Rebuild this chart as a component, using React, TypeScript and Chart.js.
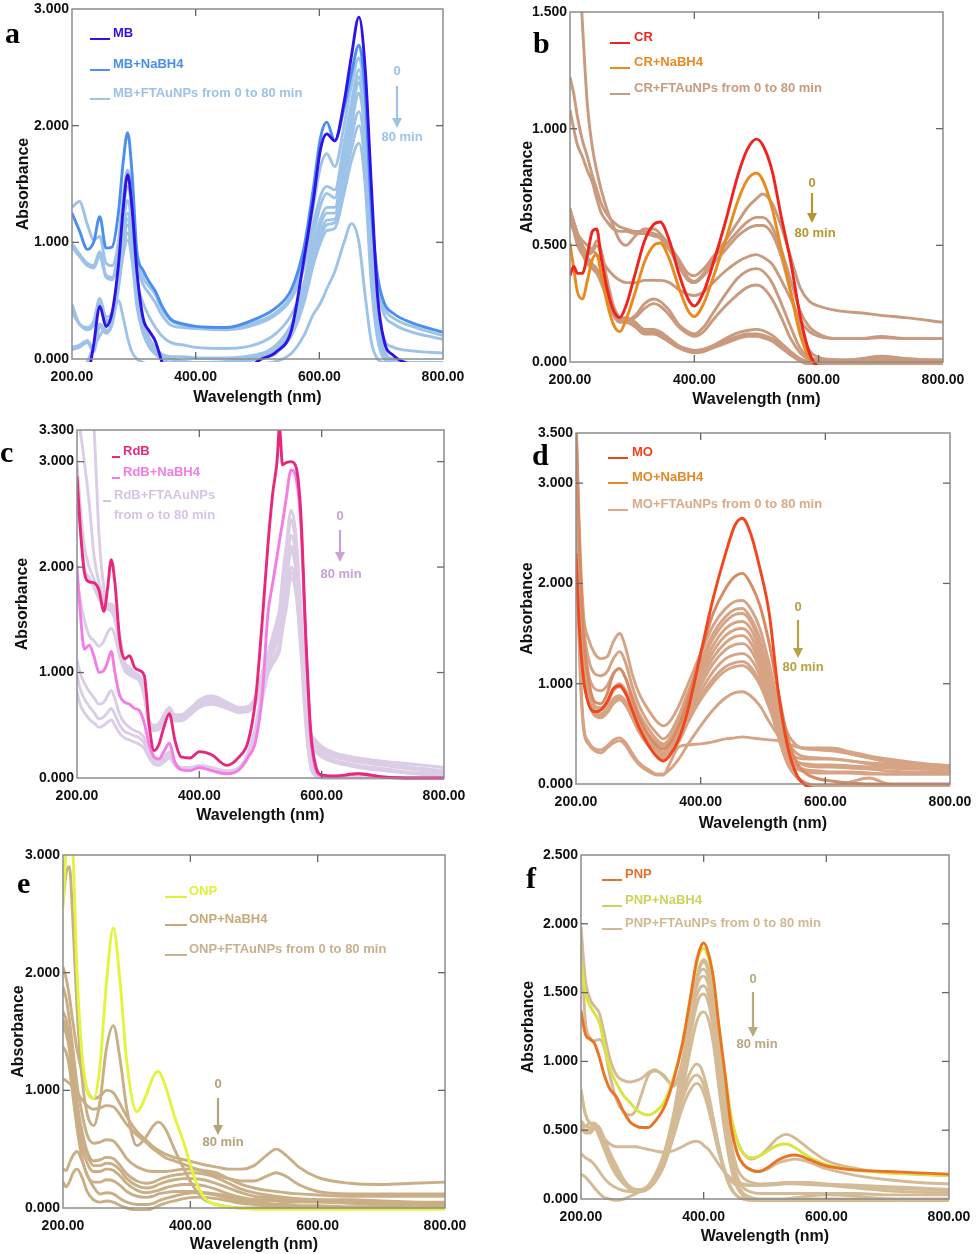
import React, { useEffect, useRef } from "react";
import { Chart, registerables } from "chart.js";
Chart.register(...registerables);

// ---------- shared axis ticks ----------
const xTickValues = [200, 400, 600, 800];
const yTicksA = [0, 1, 2, 3];
const yTicksB = [0, 0.5, 1, 1.5];
const yTicksC = [0, 1, 2, 3, 3.3];
const yTicksD = [0, 1, 2, 3, 3.5];
const yTicksE = [0, 1, 2, 3];
const yTicksF = [0, 0.5, 1, 1.5, 2, 2.5];

// ---------- panel a : MB ----------
const wlA = [200, 212, 225, 235, 245, 255, 265, 275, 283, 290, 297, 305, 315, 325, 335, 345, 360, 380, 400, 450, 500, 530, 555, 575, 590, 602, 612, 625, 640, 652, 664, 674, 684, 694, 705, 720, 750, 800];
const aMB = [-1.0, -0.8, -0.2, 0.12, 0.45, 0.28, 0.4, 0.8, 1.3, 1.58, 1.3, 0.75, 0.35, 0.24, 0.15, -0.02, -0.3, -0.4, -0.4, -0.3, -0.02, 0.06, 0.25, 0.85, 1.35, 1.8, 1.93, 1.87, 2.2, 2.6, 2.93, 2.5, 1.5, 0.55, 0.15, 0.03, -0.05, -0.1];
const aMBNaBH4 = [1.25, 1.1, 0.94, 1.0, 1.22, 0.95, 0.96, 1.25, 1.7, 1.94, 1.6, 0.92, 0.76, 0.66, 0.58, 0.46, 0.34, 0.3, 0.28, 0.27, 0.35, 0.44, 0.6, 0.95, 1.45, 1.9, 2.03, 1.87, 2.15, 2.45, 2.69, 2.3, 1.3, 0.72, 0.48, 0.39, 0.31, 0.23];
const aFT1 = [1.3, 1.35, 1.15, 1.02, 1.05, 0.82, 0.8, 1.0, 1.4, 1.62, 1.4, 0.88, 0.7, 0.62, 0.55, 0.43, 0.33, 0.29, 0.27, 0.26, 0.32, 0.4, 0.55, 0.85, 1.3, 1.65, 1.76, 1.65, 2.0, 2.35, 2.58, 2.22, 1.25, 0.68, 0.44, 0.35, 0.28, 0.2];
const aFT2 = [0.99, 0.9, 0.82, 0.8, 0.92, 0.72, 0.7, 0.95, 1.3, 1.48, 1.28, 0.82, 0.64, 0.56, 0.48, 0.38, 0.29, 0.27, 0.26, 0.25, 0.3, 0.38, 0.52, 0.78, 1.15, 1.4, 1.48, 1.45, 1.85, 2.2, 2.48, 2.12, 1.2, 0.62, 0.38, 0.3, 0.23, 0.17];
const aFT3 = [0.96, 0.88, 0.8, 0.78, 0.88, 0.7, 0.68, 0.88, 1.18, 1.36, 1.14, 0.68, 0.48, 0.36, 0.27, 0.2, 0.14, 0.12, 0.1, 0.09, 0.13, 0.22, 0.38, 0.65, 1.05, 1.32, 1.42, 1.38, 1.8, 2.15, 2.42, 2.05, 1.05, 0.42, 0.17, 0.1, 0.07, 0.05];
const aFT4 = [0.47, 0.3, 0.27, 0.32, 0.52, 0.36, 0.4, 0.75, 1.1, 1.25, 1.05, 0.6, 0.33, 0.18, 0.1, 0.04, 0.0, -0.02, -0.03, -0.02, 0.03, 0.12, 0.3, 0.6, 0.95, 1.2, 1.3, 1.3, 1.75, 2.1, 2.37, 2.0, 1.0, 0.35, 0.08, -0.02, -0.05, -0.05];
const aFT5 = [0.42, 0.3, 0.26, 0.3, 0.48, 0.33, 0.37, 0.7, 1.05, 1.2, 1.0, 0.55, 0.3, 0.16, 0.09, 0.04, 0.02, 0.02, 0.01, 0.01, 0.04, 0.1, 0.28, 0.55, 0.9, 1.15, 1.25, 1.25, 1.65, 2.0, 2.28, 1.9, 0.9, 0.3, 0.06, 0.0, -0.03, -0.03];
const aFT6 = [0.1, 0.12, 0.16, 0.08, 0.3, 0.24, 0.32, 0.65, 0.95, 1.08, 0.9, 0.5, 0.25, 0.12, 0.05, 0.0, -0.03, -0.03, -0.03, -0.03, 0.0, 0.06, 0.22, 0.5, 0.85, 1.08, 1.19, 1.2, 1.55, 1.9, 2.12, 1.75, 0.8, 0.25, 0.03, -0.03, -0.05, -0.05];
const aFT7 = [0.4, 0.3, 0.25, 0.29, 0.46, 0.31, 0.35, 0.68, 1.0, 1.15, 0.95, 0.52, 0.28, 0.15, 0.08, 0.03, 0.0, -0.02, -0.03, -0.03, 0.02, 0.08, 0.25, 0.52, 0.85, 1.05, 1.15, 1.17, 1.5, 1.8, 2.0, 1.65, 0.75, 0.22, 0.02, -0.03, -0.05, -0.05];
const aFT8 = [0.08, 0.1, 0.14, 0.06, 0.28, 0.22, 0.3, 0.6, 0.9, 1.02, 0.85, 0.45, 0.22, 0.1, 0.04, 0.0, -0.03, -0.03, -0.03, -0.03, 0.0, 0.05, 0.2, 0.48, 0.8, 1.0, 1.1, 1.12, 1.42, 1.7, 1.85, 1.5, 0.65, 0.18, 0.0, -0.03, -0.05, -0.05];
const aFT9 = [-0.3, -0.15, -0.02, 0.1, 0.2, 0.28, 0.36, 0.5, 0.35, 0.18, 0.06, 0.0, -0.03, -0.04, -0.04, -0.04, -0.04, -0.04, -0.04, -0.04, -0.04, -0.02, 0.05, 0.2, 0.38, 0.48, 0.6, 0.75, 1.0, 1.16, 1.0, 0.55, 0.15, 0.0, -0.03, -0.04, -0.05, -0.05];

// ---------- panel b : CR ----------
const wlB = [200, 206, 212, 220, 228, 236, 243, 250, 260, 270, 280, 290, 305, 320, 335, 345, 360, 375, 390, 400, 415, 430, 450, 470, 485, 500, 510, 525, 540, 555, 570, 585, 600, 630, 670, 700, 740, 800];
const bCR = [0.37, 0.41, 0.38, 0.38, 0.46, 0.56, 0.57, 0.45, 0.31, 0.22, 0.19, 0.24, 0.38, 0.52, 0.59, 0.6, 0.52, 0.38, 0.27, 0.24, 0.3, 0.42, 0.6, 0.8, 0.91, 0.955, 0.93, 0.82, 0.62, 0.43, 0.2, 0.04, -0.02, -0.03, -0.03, -0.03, -0.03, -0.03];
const bCRNaBH4 = [0.51, 0.4, 0.3, 0.27, 0.35, 0.44, 0.46, 0.38, 0.25, 0.16, 0.13, 0.18, 0.3, 0.43, 0.5, 0.51, 0.44, 0.32, 0.22, 0.195, 0.25, 0.36, 0.52, 0.69, 0.78, 0.81, 0.78, 0.66, 0.48, 0.3, 0.12, 0.02, -0.02, -0.03, -0.03, -0.03, -0.03, -0.03];
const bFT1 = [2.6, 2.2, 1.85, 1.45, 1.1, 0.92, 0.82, 0.74, 0.65, 0.58, 0.52, 0.5, 0.54, 0.57, 0.57, 0.55, 0.5, 0.44, 0.38, 0.37, 0.4, 0.45, 0.52, 0.6, 0.66, 0.7, 0.72, 0.68, 0.58, 0.45, 0.32, 0.26, 0.24, 0.22, 0.21, 0.2, 0.19, 0.17];
const bFT2 = [1.22, 1.15, 1.05, 0.95, 0.88, 0.8, 0.74, 0.68, 0.63, 0.6, 0.58, 0.57, 0.56, 0.56, 0.55, 0.54, 0.5, 0.43, 0.36, 0.345, 0.38, 0.44, 0.5, 0.56, 0.6, 0.62, 0.62, 0.58, 0.48, 0.35, 0.22, 0.15, 0.12, 0.1, 0.1, 0.11, 0.1, 0.1];
const bFT3 = [1.08, 1.0, 0.93, 0.88, 0.82, 0.77, 0.7, 0.64, 0.6, 0.57, 0.56, 0.56, 0.55, 0.55, 0.54, 0.53, 0.48, 0.41, 0.35, 0.34, 0.37, 0.42, 0.48, 0.54, 0.57, 0.585, 0.585, 0.55, 0.45, 0.3, 0.15, 0.05, 0.02, 0.01, 0.01, 0.01, 0.01, 0.01];
const bFT4 = [0.66, 0.6, 0.55, 0.52, 0.5, 0.48, 0.46, 0.44, 0.4, 0.37, 0.35, 0.34, 0.34, 0.35, 0.35, 0.35, 0.34, 0.31, 0.29, 0.285, 0.3, 0.34, 0.39, 0.43, 0.45, 0.46, 0.45, 0.42, 0.35, 0.27, 0.18, 0.13, 0.11, 0.1, 0.1, 0.105, 0.1, 0.1];
const bFT5 = [0.63, 0.6, 0.55, 0.5, 0.47, 0.48, 0.52, 0.48, 0.35, 0.24, 0.19, 0.18, 0.2, 0.25, 0.27, 0.26, 0.22, 0.16, 0.13, 0.12, 0.15, 0.21, 0.29, 0.36, 0.39, 0.4, 0.39, 0.34, 0.25, 0.15, 0.06, 0.02, 0.01, 0.005, 0.005, 0.005, 0.005, 0.005];
const bFT6 = [0.6, 0.57, 0.52, 0.48, 0.46, 0.47, 0.5, 0.46, 0.33, 0.22, 0.18, 0.17, 0.19, 0.23, 0.25, 0.24, 0.2, 0.15, 0.12, 0.11, 0.13, 0.18, 0.24, 0.29, 0.32, 0.33, 0.32, 0.27, 0.19, 0.1, 0.04, 0.01, 0.0, 0.0, 0.0, 0.0, 0.0, 0.0];
const bFT7 = [0.65, 0.6, 0.55, 0.5, 0.45, 0.42, 0.4, 0.36, 0.29, 0.22, 0.19, 0.19, 0.17, 0.14, 0.14, 0.13, 0.1, 0.07, 0.055, 0.05, 0.055, 0.07, 0.1, 0.125, 0.135, 0.14, 0.135, 0.115, 0.08, 0.045, 0.015, 0.0, -0.01, -0.01, 0.01, 0.02, 0.01, 0.0];
const bFT8 = [0.62, 0.58, 0.53, 0.48, 0.44, 0.41, 0.39, 0.35, 0.28, 0.21, 0.18, 0.18, 0.16, 0.13, 0.13, 0.12, 0.09, 0.065, 0.05, 0.045, 0.05, 0.065, 0.09, 0.11, 0.12, 0.12, 0.115, 0.1, 0.07, 0.04, 0.01, 0.0, -0.01, 0.0, 0.015, 0.025, 0.015, 0.005];
const bFT9 = [0.6, 0.56, 0.5, 0.46, 0.42, 0.4, 0.38, 0.34, 0.27, 0.2, 0.17, 0.17, 0.15, 0.12, 0.12, 0.11, 0.085, 0.06, 0.045, 0.04, 0.045, 0.06, 0.08, 0.1, 0.11, 0.11, 0.105, 0.09, 0.06, 0.03, 0.005, -0.01, -0.01, -0.01, -0.01, -0.01, -0.01, -0.01];

// ---------- panel c : RdB ----------
const wlC = [200, 205, 212, 220, 228, 236, 244, 250, 256, 262, 270, 278, 286, 294, 302, 310, 318, 326, 334, 342, 351, 360, 370, 385, 400, 420, 445, 465, 480, 492, 503, 512, 520, 527, 531, 536, 542, 550, 558, 566, 574, 582, 590, 600, 620, 660, 700, 750, 800];
const cRdB = [2.86, 2.4, 1.95, 1.86, 1.85, 1.78, 1.58, 1.8, 2.07, 1.85, 1.3, 1.13, 1.16, 1.05, 1.02, 0.97, 0.5, 0.26, 0.32, 0.48, 0.61, 0.36, 0.2, 0.19, 0.25, 0.22, 0.12, 0.2, 0.35, 0.75, 1.5, 2.2, 2.7, 3.0, 3.32, 2.97, 2.99, 3.0, 2.95, 2.5, 1.35, 0.45, 0.12, 0.03, 0.02, 0.04, 0.01, 0.0, 0.0];
const cRdBNaBH4 = [2.0, 1.6, 1.22, 1.26, 1.15, 1.0, 1.02, 1.1, 1.2, 1.0, 0.78, 0.72, 0.7, 0.66, 0.64, 0.52, 0.32, 0.2, 0.18, 0.25, 0.33, 0.15, 0.08, 0.07, 0.1, 0.07, 0.04, 0.08, 0.2, 0.35, 0.8, 1.55, 1.85, 2.1, 2.25, 2.42, 2.65, 2.92, 2.85, 2.4, 1.3, 0.4, 0.08, 0.02, 0.01, 0.04, 0.01, 0.0, 0.0];
const cFT1 = [3.4, 3.3, 3.0, 2.6, 2.1, 1.85, 1.7, 1.65, 1.65, 1.6, 1.35, 1.1, 1.05, 1.0, 0.97, 0.85, 0.55, 0.5, 0.52, 0.6, 0.67, 0.6, 0.6, 0.66, 0.74, 0.78, 0.72, 0.67, 0.68, 0.78, 1.0, 1.18, 1.35, 1.5, 1.6, 1.9, 2.2, 2.54, 2.3, 1.6, 0.9, 0.45, 0.36, 0.3, 0.24, 0.19, 0.16, 0.13, 0.1];
const cFT2 = [4.0, 4.0, 4.0, 3.8, 3.3, 2.3, 1.8, 1.65, 1.63, 1.55, 1.3, 1.08, 1.02, 0.98, 0.95, 0.82, 0.52, 0.48, 0.5, 0.58, 0.65, 0.58, 0.58, 0.64, 0.72, 0.76, 0.7, 0.65, 0.66, 0.76, 0.97, 1.15, 1.3, 1.45, 1.55, 1.82, 2.1, 2.45, 2.2, 1.5, 0.85, 0.42, 0.33, 0.28, 0.22, 0.17, 0.14, 0.1, 0.07];
const cFT3 = [2.98, 2.6, 2.2, 2.0, 1.88, 1.75, 1.65, 1.62, 1.6, 1.55, 1.3, 1.08, 1.0, 0.97, 0.94, 0.8, 0.5, 0.46, 0.48, 0.57, 0.64, 0.57, 0.57, 0.62, 0.7, 0.74, 0.69, 0.64, 0.65, 0.74, 0.95, 1.12, 1.25, 1.38, 1.48, 1.75, 2.0, 2.3, 2.1, 1.45, 0.8, 0.38, 0.3, 0.26, 0.2, 0.15, 0.12, 0.08, 0.05];
const cFT4 = [2.6, 2.4, 2.0, 1.9, 1.8, 1.7, 1.62, 1.6, 1.58, 1.5, 1.25, 1.05, 0.98, 0.95, 0.92, 0.78, 0.5, 0.45, 0.47, 0.55, 0.62, 0.55, 0.55, 0.6, 0.68, 0.72, 0.68, 0.63, 0.64, 0.72, 0.92, 1.1, 1.22, 1.33, 1.42, 1.68, 1.92, 2.2, 2.0, 1.4, 0.75, 0.35, 0.27, 0.23, 0.17, 0.12, 0.09, 0.05, 0.03];
const cFT5 = [1.9, 1.7, 1.5, 1.35, 1.3, 1.25, 1.3, 1.38, 1.42, 1.35, 1.15, 1.02, 0.98, 0.96, 0.93, 0.78, 0.5, 0.45, 0.46, 0.54, 0.6, 0.54, 0.54, 0.6, 0.67, 0.7, 0.66, 0.62, 0.63, 0.7, 0.88, 1.05, 1.18, 1.28, 1.35, 1.6, 1.85, 2.15, 1.95, 1.35, 0.72, 0.33, 0.25, 0.2, 0.15, 0.1, 0.07, 0.04, 0.02];
const cFT6 = [1.12, 1.0, 0.9, 0.82, 0.76, 0.7, 0.72, 0.78, 0.83, 0.75, 0.6, 0.52, 0.48, 0.45, 0.43, 0.38, 0.25, 0.18, 0.16, 0.2, 0.25, 0.15, 0.1, 0.1, 0.12, 0.1, 0.07, 0.1, 0.25, 0.5, 0.85, 1.1, 1.2, 1.3, 1.36, 1.55, 1.75, 2.0, 1.85, 1.3, 0.6, 0.15, 0.03, 0.01, 0.0, 0.0, 0.0, 0.0, 0.0];
const cFT7 = [0.98, 0.85, 0.75, 0.68, 0.62, 0.56, 0.58, 0.62, 0.66, 0.6, 0.5, 0.44, 0.42, 0.4, 0.38, 0.33, 0.22, 0.15, 0.13, 0.17, 0.22, 0.13, 0.09, 0.09, 0.11, 0.09, 0.06, 0.09, 0.22, 0.45, 0.78, 1.02, 1.12, 1.2, 1.26, 1.45, 1.65, 1.95, 1.8, 1.25, 0.55, 0.12, 0.02, 0.0, 0.0, 0.0, 0.0, 0.0, 0.0];
const cFT8 = [0.82, 0.7, 0.62, 0.56, 0.52, 0.48, 0.5, 0.53, 0.55, 0.5, 0.42, 0.38, 0.36, 0.34, 0.32, 0.28, 0.19, 0.13, 0.12, 0.15, 0.19, 0.12, 0.08, 0.08, 0.1, 0.08, 0.05, 0.08, 0.2, 0.42, 0.74, 0.98, 1.08, 1.15, 1.2, 1.4, 1.6, 1.9, 1.75, 1.2, 0.5, 0.1, 0.02, 0.0, 0.0, 0.0, 0.0, 0.0, 0.0];

// ---------- panel d : MO ----------
const wlD = [200, 205, 212, 220, 230, 240, 250, 260, 270, 280, 290, 300, 315, 330, 340, 350, 365, 380, 400, 420, 440, 455, 467, 480, 495, 510, 525, 540, 555, 570, 590, 610, 640, 670, 700, 750, 800];
const dMO = [2.3, 1.6, 1.05, 0.8, 0.72, 0.74, 0.82, 0.95, 0.98, 0.9, 0.74, 0.58, 0.4, 0.27, 0.23, 0.28, 0.45, 0.75, 1.3, 1.85, 2.3, 2.58, 2.65, 2.5, 2.15, 1.7, 0.9, 0.36, 0.08, -0.02, -0.05, -0.05, -0.05, -0.05, -0.05, -0.05, -0.05];
const dMONaBH4 = [3.6, 2.5, 1.5, 1.05, 0.82, 0.8, 0.9, 1.1, 1.15, 1.05, 0.85, 0.68, 0.5, 0.38, 0.35, 0.4, 0.58, 0.85, 1.3, 1.7, 1.95, 2.07, 2.1, 2.0, 1.78, 1.4, 0.9, 0.45, 0.2, 0.1, 0.05, 0.03, 0.01, 0.0, 0.0, 0.0, 0.0];
const dFT1 = [3.7, 2.6, 1.7, 1.45, 1.3, 1.25, 1.27, 1.42, 1.5, 1.35, 1.1, 0.92, 0.75, 0.62, 0.58, 0.62, 0.78, 1.0, 1.3, 1.58, 1.75, 1.82, 1.83, 1.75, 1.55, 1.2, 0.8, 0.5, 0.38, 0.35, 0.35, 0.35, 0.3, 0.26, 0.22, 0.2, 0.18];
const dFT2 = [3.6, 2.4, 1.6, 1.25, 1.1, 1.08, 1.12, 1.25, 1.32, 1.2, 0.98, 0.8, 0.62, 0.5, 0.45, 0.5, 0.68, 0.92, 1.22, 1.5, 1.67, 1.74, 1.75, 1.66, 1.45, 1.1, 0.72, 0.42, 0.3, 0.27, 0.26, 0.25, 0.23, 0.2, 0.18, 0.16, 0.15];
const dFT3 = [3.5, 2.3, 1.5, 1.1, 0.95, 0.93, 0.98, 1.1, 1.15, 1.05, 0.88, 0.72, 0.56, 0.44, 0.4, 0.45, 0.62, 0.88, 1.18, 1.45, 1.62, 1.69, 1.7, 1.62, 1.4, 1.05, 0.65, 0.35, 0.22, 0.18, 0.17, 0.17, 0.16, 0.15, 0.13, 0.12, 0.12];
const dFT4 = [3.4, 2.2, 1.4, 1.0, 0.78, 0.76, 0.82, 0.95, 1.0, 0.93, 0.78, 0.64, 0.5, 0.41, 0.38, 0.43, 0.6, 0.85, 1.13, 1.38, 1.55, 1.61, 1.62, 1.55, 1.33, 0.98, 0.58, 0.3, 0.18, 0.14, 0.13, 0.12, 0.12, 0.11, 0.1, 0.1, 0.1];
const dFT5 = [3.3, 2.1, 1.35, 0.95, 0.75, 0.74, 0.8, 0.93, 0.97, 0.9, 0.75, 0.6, 0.46, 0.37, 0.35, 0.4, 0.57, 0.8, 1.08, 1.32, 1.48, 1.54, 1.55, 1.48, 1.26, 0.92, 0.52, 0.22, 0.07, 0.01, -0.02, -0.02, -0.02, -0.02, -0.02, -0.02, -0.02];
const dFT6 = [3.2, 2.0, 1.25, 0.9, 0.72, 0.7, 0.75, 0.85, 0.88, 0.82, 0.7, 0.57, 0.44, 0.35, 0.32, 0.37, 0.53, 0.76, 1.03, 1.26, 1.41, 1.47, 1.48, 1.41, 1.2, 0.86, 0.48, 0.2, 0.06, 0.0, -0.02, -0.02, -0.02, -0.02, -0.02, -0.02, -0.02];
const dFT7 = [3.1, 1.9, 1.2, 0.88, 0.71, 0.69, 0.74, 0.84, 0.87, 0.81, 0.69, 0.56, 0.42, 0.33, 0.3, 0.35, 0.5, 0.72, 0.98, 1.2, 1.34, 1.39, 1.4, 1.34, 1.14, 0.82, 0.46, 0.19, 0.06, 0.0, -0.02, -0.02, 0.02, 0.06, 0.0, -0.02, -0.02];
const dFT8 = [3.0, 1.8, 1.15, 0.86, 0.7, 0.68, 0.73, 0.83, 0.86, 0.8, 0.68, 0.55, 0.41, 0.31, 0.28, 0.33, 0.47, 0.68, 0.92, 1.12, 1.25, 1.29, 1.3, 1.25, 1.08, 0.8, 0.48, 0.25, 0.15, 0.12, 0.11, 0.11, 0.11, 0.1, 0.1, 0.1, 0.1];
const dFT9 = [2.9, 1.7, 1.1, 0.84, 0.69, 0.67, 0.72, 0.82, 0.85, 0.79, 0.67, 0.54, 0.4, 0.3, 0.26, 0.3, 0.44, 0.64, 0.87, 1.05, 1.17, 1.21, 1.22, 1.17, 1.02, 0.78, 0.5, 0.3, 0.22, 0.2, 0.19, 0.19, 0.18, 0.17, 0.16, 0.15, 0.14];
const dFT10 = [2.8, 1.65, 1.05, 0.83, 0.68, 0.66, 0.71, 0.8, 0.84, 0.78, 0.66, 0.53, 0.39, 0.29, 0.25, 0.29, 0.42, 0.62, 0.84, 1.01, 1.13, 1.17, 1.18, 1.13, 0.99, 0.76, 0.5, 0.32, 0.26, 0.25, 0.25, 0.25, 0.23, 0.21, 0.2, 0.18, 0.17];
const dFT11 = [3.0, 1.5, 0.6, 0.42, 0.35, 0.34, 0.38, 0.44, 0.46, 0.41, 0.31, 0.22, 0.15, 0.1, 0.1, 0.14, 0.25, 0.4, 0.58, 0.74, 0.86, 0.91, 0.92, 0.88, 0.78, 0.62, 0.48, 0.4, 0.37, 0.35, 0.34, 0.33, 0.3, 0.26, 0.23, 0.2, 0.18];
const dFT12 = [2.8, 1.4, 0.55, 0.4, 0.33, 0.31, 0.36, 0.41, 0.43, 0.38, 0.28, 0.2, 0.13, 0.09, 0.09, 0.2, 0.37, 0.39, 0.4, 0.42, 0.45, 0.46, 0.47, 0.46, 0.45, 0.44, 0.43, 0.4, 0.37, 0.36, 0.36, 0.36, 0.32, 0.28, 0.25, 0.21, 0.18];

// ---------- panel e : ONP ----------
const wlE = [200, 205, 210, 215, 222, 230, 238, 248, 258, 268, 279, 290, 300, 316, 330, 342, 350, 360, 375, 390, 405, 420, 440, 460, 480, 500, 520, 535, 550, 570, 600, 650, 700, 750, 800];
const eONP = [2.56, 3.05, 3.3, 3.1, 2.0, 1.3, 1.0, 0.93, 1.2, 1.9, 2.38, 1.9, 1.25, 0.82, 0.95, 1.12, 1.16, 1.05, 0.78, 0.55, 0.28, 0.1, 0.03, 0.01, 0.0, -0.01, -0.01, -0.01, -0.01, -0.01, -0.01, -0.01, -0.01, -0.01, -0.01];
const eONPNaBH4 = [2.6, 2.85, 2.9, 2.5, 1.7, 1.1, 0.8, 0.7, 0.9, 1.35, 1.55, 1.25, 0.85, 0.53, 0.6, 0.7, 0.73, 0.68, 0.5, 0.33, 0.18, 0.08, 0.03, 0.01, 0.0, 0.0, 0.0, 0.0, 0.0, 0.0, 0.0, 0.0, 0.0, 0.0, 0.0];
const eFT1 = [2.05, 1.95, 1.8, 1.6, 1.35, 1.15, 1.0, 0.93, 0.95, 1.0, 0.98, 0.88, 0.78, 0.65, 0.58, 0.52, 0.49, 0.46, 0.43, 0.41, 0.39, 0.37, 0.35, 0.33, 0.33, 0.36, 0.45, 0.5, 0.45, 0.35, 0.26, 0.21, 0.2, 0.21, 0.22];
const eFT2 = [1.1, 1.08, 1.06, 1.03, 0.98, 0.92, 0.87, 0.84, 0.85, 0.87, 0.86, 0.79, 0.71, 0.62, 0.56, 0.5, 0.47, 0.43, 0.4, 0.37, 0.34, 0.31, 0.28, 0.25, 0.23, 0.23, 0.27, 0.3, 0.27, 0.2, 0.14, 0.12, 0.12, 0.12, 0.12];
const eFT3 = [1.88, 1.78, 1.6, 1.38, 1.05, 0.8, 0.62, 0.55, 0.56, 0.58, 0.57, 0.5, 0.42, 0.35, 0.32, 0.31, 0.31, 0.31, 0.32, 0.33, 0.33, 0.32, 0.3, 0.25, 0.2, 0.17, 0.15, 0.14, 0.13, 0.12, 0.11, 0.1, 0.1, 0.1, 0.1];
const eFT4 = [1.67, 1.6, 1.45, 1.2, 0.9, 0.65, 0.48, 0.4, 0.41, 0.43, 0.42, 0.36, 0.29, 0.23, 0.21, 0.22, 0.24, 0.26, 0.28, 0.29, 0.3, 0.29, 0.26, 0.21, 0.16, 0.13, 0.11, 0.1, 0.09, 0.08, 0.07, 0.06, 0.05, 0.05, 0.05];
const eFT5 = [1.6, 1.52, 1.4, 1.15, 0.85, 0.6, 0.45, 0.36, 0.36, 0.38, 0.37, 0.32, 0.25, 0.19, 0.17, 0.18, 0.2, 0.22, 0.24, 0.25, 0.25, 0.24, 0.21, 0.17, 0.13, 0.1, 0.09, 0.08, 0.07, 0.07, 0.06, 0.05, 0.04, 0.03, 0.03];
const eFT6 = [1.54, 1.48, 1.35, 1.08, 0.78, 0.52, 0.38, 0.31, 0.31, 0.33, 0.32, 0.27, 0.21, 0.15, 0.13, 0.14, 0.15, 0.17, 0.19, 0.2, 0.2, 0.19, 0.16, 0.12, 0.09, 0.07, 0.06, 0.06, 0.05, 0.05, 0.05, 0.04, 0.03, 0.02, 0.02];
const eFT7 = [1.37, 1.32, 1.2, 0.98, 0.68, 0.42, 0.28, 0.22, 0.22, 0.24, 0.23, 0.19, 0.14, 0.1, 0.09, 0.1, 0.12, 0.13, 0.14, 0.14, 0.14, 0.13, 0.11, 0.08, 0.06, 0.05, 0.04, 0.03, 0.03, 0.02, 0.02, 0.01, 0.01, 0.01, 0.01];
const eFT8 = [0.33, 0.32, 0.38, 0.44, 0.48, 0.4, 0.28, 0.18, 0.12, 0.13, 0.12, 0.08, 0.05, 0.03, 0.03, 0.04, 0.06, 0.08, 0.1, 0.12, 0.13, 0.13, 0.12, 0.1, 0.08, 0.07, 0.07, 0.07, 0.07, 0.07, 0.07, 0.07, 0.06, 0.05, 0.04];
const eFT9 = [0.22, 0.18, 0.22, 0.29, 0.33, 0.26, 0.14, 0.07, 0.05, 0.06, 0.05, 0.02, 0.0, -0.02, -0.02, 0.0, 0.02, 0.04, 0.06, 0.08, 0.09, 0.09, 0.08, 0.06, 0.04, 0.03, 0.02, 0.02, 0.01, 0.01, 0.01, 0.0, 0.0, 0.0, 0.0];

// ---------- panel f : PNP ----------
const wlF = [200, 207, 215, 222, 230, 238, 247, 258, 270, 280, 290, 300, 310, 320, 335, 350, 365, 378, 388, 395, 400, 408, 416, 425, 435, 445, 455, 465, 478, 490, 505, 520, 535, 550, 570, 600, 650, 700, 750, 800];
const fPNP = [1.37, 1.2, 1.16, 1.13, 1.03, 0.9, 0.8, 0.74, 0.63, 0.56, 0.53, 0.52, 0.52, 0.56, 0.66, 0.85, 1.12, 1.45, 1.72, 1.83, 1.86, 1.78, 1.6, 1.25, 0.9, 0.52, 0.33, 0.25, 0.21, 0.2, 0.23, 0.28, 0.31, 0.32, 0.29, 0.24, 0.21, 0.2, 0.19, 0.18];
const fPNPNaBH4 = [1.73, 1.5, 1.4, 1.35, 1.28, 1.12, 0.95, 0.84, 0.75, 0.7, 0.65, 0.62, 0.61, 0.63, 0.7, 0.87, 1.12, 1.45, 1.7, 1.8, 1.82, 1.75, 1.58, 1.25, 0.9, 0.6, 0.42, 0.33, 0.3, 0.31, 0.35, 0.39, 0.4, 0.37, 0.31, 0.25, 0.21, 0.19, 0.18, 0.17];
const fFT1 = [1.98, 1.6, 1.45, 1.4, 1.35, 1.2, 1.02, 0.9, 0.86, 0.85, 0.86, 0.88, 0.92, 0.94, 0.89, 0.83, 1.0, 1.35, 1.6, 1.71, 1.74, 1.68, 1.5, 1.15, 0.82, 0.58, 0.42, 0.33, 0.29, 0.31, 0.37, 0.44, 0.47, 0.44, 0.37, 0.28, 0.22, 0.19, 0.18, 0.17];
const fFT2 = [1.9, 1.3, 1.17, 1.15, 1.16, 1.1, 0.9, 0.72, 0.63, 0.61, 0.65, 0.78, 0.9, 0.93, 0.9, 0.82, 0.95, 1.3, 1.58, 1.7, 1.72, 1.65, 1.45, 1.1, 0.75, 0.5, 0.33, 0.25, 0.21, 0.2, 0.22, 0.26, 0.28, 0.29, 0.27, 0.22, 0.17, 0.14, 0.12, 0.11];
const fFT3 = [0.8, 0.62, 0.55, 0.52, 0.5, 0.42, 0.32, 0.22, 0.13, 0.08, 0.06, 0.07, 0.1, 0.17, 0.33, 0.6, 0.98, 1.35, 1.58, 1.66, 1.67, 1.6, 1.4, 1.05, 0.68, 0.4, 0.22, 0.15, 0.12, 0.11, 0.11, 0.11, 0.12, 0.12, 0.12, 0.11, 0.1, 0.09, 0.08, 0.07];
const fFT4 = [0.57, 0.53, 0.52, 0.54, 0.52, 0.44, 0.34, 0.24, 0.14, 0.09, 0.07, 0.07, 0.09, 0.15, 0.3, 0.57, 0.95, 1.3, 1.53, 1.61, 1.62, 1.55, 1.35, 1.0, 0.62, 0.34, 0.16, 0.08, 0.05, 0.04, 0.04, 0.04, 0.04, 0.04, 0.04, 0.04, 0.04, 0.03, 0.03, 0.03];
const fFT5 = [0.55, 0.5, 0.5, 0.53, 0.5, 0.42, 0.32, 0.22, 0.13, 0.08, 0.065, 0.065, 0.085, 0.14, 0.28, 0.54, 0.9, 1.25, 1.47, 1.54, 1.55, 1.48, 1.28, 0.93, 0.56, 0.28, 0.11, 0.04, 0.01, 0.0, 0.0, 0.0, 0.0, 0.0, 0.0, 0.0, 0.0, 0.0, 0.0, 0.0];
const fFT6 = [0.53, 0.49, 0.49, 0.52, 0.49, 0.41, 0.31, 0.21, 0.12, 0.075, 0.06, 0.06, 0.08, 0.13, 0.26, 0.5, 0.85, 1.18, 1.4, 1.48, 1.49, 1.42, 1.22, 0.88, 0.52, 0.25, 0.09, 0.03, 0.0, -0.01, -0.01, -0.01, -0.01, -0.01, -0.01, -0.01, -0.01, -0.01, -0.01, -0.01];
const fFT7 = [0.52, 0.48, 0.48, 0.51, 0.48, 0.4, 0.3, 0.2, 0.11, 0.07, 0.055, 0.055, 0.075, 0.12, 0.24, 0.46, 0.78, 1.08, 1.28, 1.35, 1.36, 1.3, 1.12, 0.8, 0.47, 0.22, 0.08, 0.02, 0.0, -0.01, -0.01, -0.01, 0.0, 0.01, 0.02, 0.03, 0.02, 0.0, -0.01, -0.01];
const fFT8 = [0.33, 0.3, 0.28, 0.25, 0.2, 0.15, 0.11, 0.08, 0.06, 0.055, 0.055, 0.06, 0.08, 0.13, 0.27, 0.5, 0.76, 0.92, 0.98, 0.96, 0.9, 0.76, 0.58, 0.38, 0.2, 0.08, 0.02, 0.0, -0.01, -0.01, -0.01, -0.01, -0.01, -0.01, -0.01, -0.01, -0.01, -0.01, -0.01, -0.01];
const fFT9 = [0.18, 0.16, 0.12, 0.08, 0.04, 0.01, 0.0, -0.01, 0.0, 0.02, 0.04, 0.06, 0.08, 0.13, 0.26, 0.48, 0.72, 0.86, 0.9, 0.88, 0.83, 0.7, 0.53, 0.34, 0.18, 0.07, 0.02, 0.0, -0.01, -0.01, -0.01, -0.01, -0.01, -0.01, -0.01, -0.01, -0.01, -0.01, -0.01, -0.01];
const fFT10 = [0.55, 0.53, 0.55, 0.53, 0.45, 0.36, 0.26, 0.17, 0.11, 0.08, 0.065, 0.065, 0.08, 0.12, 0.24, 0.44, 0.66, 0.79, 0.84, 0.82, 0.77, 0.65, 0.5, 0.33, 0.2, 0.13, 0.1, 0.1, 0.1, 0.1, 0.11, 0.115, 0.12, 0.12, 0.11, 0.1, 0.08, 0.06, 0.05, 0.04];
const fFT11 = [0.77, 0.62, 0.55, 0.55, 0.5, 0.44, 0.4, 0.38, 0.38, 0.38, 0.38, 0.37, 0.36, 0.35, 0.34, 0.35, 0.38, 0.41, 0.42, 0.41, 0.39, 0.36, 0.31, 0.25, 0.19, 0.15, 0.12, 0.11, 0.1, 0.1, 0.1, 0.105, 0.11, 0.11, 0.105, 0.1, 0.09, 0.08, 0.07, 0.06];

// ---------- layout / style ----------
const SANS = "'Liberation Sans', Arial, Helvetica, sans-serif";
const SERIF = "'Liberation Serif', 'Times New Roman', serif";

type Series = { data: number[]; color: string; width?: number };
type LegendRow = { text: string; color: string; lineColor?: string; dy: number; x0?: number; x1?: number; tx: number };
type Panel = {
  box: [number, number, number, number];
  yAxisW: number; padTop: number; padRight: number; xAxisH: number;
  xTitlePad: number; yTitlePad: number;
  wl: number[]; series: Series[]; yMax: number; yTicks: number[];
  letter: string; letterPos: [number, number];
  legend: LegendRow[];
  arrow: { x: number; zeroY: number; y0: number; y1: number; minY: number; minX: number; color: string };
};

const blueDark = "#2e12e8", blueMid = "#4a8ef0", blueLight = "#9dc3e8";
const crRed = "#f0231e", crOrange = "#e98a1f", crTan = "#c99a7d";
const rdPink = "#e8287c", rdMag = "#f27de6", rdLight = "#dccde6";
const moRed = "#f2461f", moNa = "#d98a62", moTan = "#d6a484";
const onpYel = "#e3f53a", onpTan = "#c9ae86";
const pnpOr = "#ea7424", pnpYel = "#d9e53f", pnpTan = "#d4bb96";

const W = 2.9;
const panels: Panel[] = [
  {
    box: [0, 0, 480, 415], yAxisW: 72, padTop: 9, padRight: 37, xAxisH: 56, xTitlePad: 8, yTitlePad: 14,
    wl: wlA, yMax: 3, yTicks: yTicksA,
    series: [
      { data: aMB, color: blueDark }, { data: aMBNaBH4, color: blueMid },
      ...[aFT1, aFT2, aFT3, aFT4, aFT5, aFT6, aFT7, aFT8, aFT9].map((d) => ({ data: d, color: blueLight })),
    ],
    letter: "a", letterPos: [5, 43],
    legend: [
      { text: "MB", color: blueDark, dy: 24, x0: 18, x1: 38, tx: 41 },
      { text: "MB+NaBH4", color: blueMid, dy: 55, x0: 18, x1: 38, tx: 41 },
      { text: "MB+FTAuNPs from 0 to 80 min", color: blueLight, dy: 84, x0: 18, x1: 38, tx: 41 },
    ],
    arrow: { x: 325, zeroY: 62, y0: 77, y1: 119, minY: 128, minX: 330, color: blueLight },
  },
  {
    box: [488, 0, 488, 415], yAxisW: 82, padTop: 12, padRight: 33, xAxisH: 53, xTitlePad: 6, yTitlePad: 30,
    wl: wlB, yMax: 1.5, yTicks: yTicksB,
    series: [
      { data: bCR, color: crRed }, { data: bCRNaBH4, color: crOrange },
      ...[bFT1, bFT2, bFT3, bFT4, bFT5, bFT6, bFT7, bFT8, bFT9].map((d) => ({ data: d, color: crTan })),
    ],
    letter: "b", letterPos: [45, 53],
    legend: [
      { text: "CR", color: crRed, dy: 25, x0: 40, x1: 60, tx: 64 },
      { text: "CR+NaBH4", color: crOrange, dy: 50, x0: 40, x1: 60, tx: 64 },
      { text: "CR+FTAuNPs from 0 to 80 min", color: crTan, dy: 76, x0: 40, x1: 60, tx: 64 },
    ],
    arrow: { x: 242, zeroY: 171, y0: 181, y1: 211, minY: 221, minX: 245, color: "#b8962e" },
  },
  {
    box: [0, 420, 480, 415], yAxisW: 77, padTop: 10, padRight: 36, xAxisH: 57, xTitlePad: 10, yTitlePad: 13,
    wl: wlC, yMax: 3.3, yTicks: yTicksC,
    series: [
      { data: cRdB, color: rdPink }, { data: cRdBNaBH4, color: rdMag },
      ...[cFT1, cFT2, cFT3, cFT4, cFT5, cFT6, cFT7, cFT8].map((d) => ({ data: d, color: rdLight })),
    ],
    letter: "c", letterPos: [0, 42],
    legend: [
      { text: "RdB", color: rdPink, dy: 21, x0: 35, x1: 43, tx: 46 },
      { text: "RdB+NaBH4", color: rdMag, dy: 42, x0: 35, x1: 43, tx: 46 },
      { text: "RdB+FTAAuNPs", color: "#d6c4e2", dy: 65, x0: 26, x1: 34, tx: 37 },
      { text: "from o to 80 min", color: "#d6c4e2", dy: 85, tx: 37 },
    ],
    arrow: { x: 263, zeroY: 86, y0: 100, y1: 132, minY: 144, minX: 264, color: "#c6a2d8" },
  },
  {
    box: [488, 420, 488, 415], yAxisW: 88, padTop: 13, padRight: 26, xAxisH: 51, xTitlePad: 2, yTitlePad: 30,
    wl: wlD, yMax: 3.5, yTicks: yTicksD,
    series: [
      { data: dMO, color: moRed }, { data: dMONaBH4, color: moNa },
      ...[dFT1, dFT2, dFT3, dFT4, dFT5, dFT6, dFT7, dFT8, dFT9, dFT10, dFT11, dFT12].map((d) => ({ data: d, color: moTan })),
    ],
    letter: "d", letterPos: [44, 45],
    legend: [
      { text: "MO", color: "#f0401c", dy: 19, x0: 32, x1: 52, tx: 56 },
      { text: "MO+NaBH4", color: "#e38a24", dy: 44, x0: 32, x1: 52, tx: 56 },
      { text: "MO+FTAuNPs from 0 to 80 min", color: "#dcaa88", dy: 71, x0: 32, x1: 52, tx: 56 },
    ],
    arrow: { x: 222, zeroY: 174, y0: 187, y1: 225, minY: 234, minX: 227, color: "#b9a040" },
  },
  {
    box: [0, 838, 480, 416], yAxisW: 63, padTop: 17, padRight: 35, xAxisH: 46, xTitlePad: 0, yTitlePad: 9,
    wl: wlE, yMax: 3, yTicks: yTicksE,
    series: [
      { data: eONP, color: onpYel }, { data: eONPNaBH4, color: onpTan },
      ...[eFT1, eFT2, eFT3, eFT4, eFT5, eFT6, eFT7, eFT8, eFT9].map((d) => ({ data: d, color: onpTan })),
    ],
    letter: "e", letterPos: [17, 55],
    legend: [
      { text: "ONP", color: "#e0f03a", dy: 36, x0: 102, x1: 124, tx: 126 },
      { text: "ONP+NaBH4", color: "#c8aa78", dy: 64, x0: 102, x1: 124, tx: 126 },
      { text: "ONP+FTAuNPs from 0 to 80 min", color: "#c9b08e", dy: 94, x0: 102, x1: 124, tx: 126 },
    ],
    arrow: { x: 155, zeroY: 229, y0: 243, y1: 280, minY: 287, minX: 160, color: "#b4a27c" },
  },
  {
    box: [488, 838, 488, 416], yAxisW: 93, padTop: 17, padRight: 27, xAxisH: 55, xTitlePad: 8, yTitlePad: 31,
    wl: wlF, yMax: 2.5, yTicks: yTicksF,
    series: [
      { data: fPNP, color: pnpOr }, { data: fPNPNaBH4, color: pnpYel },
      ...[fFT1, fFT2, fFT3, fFT4, fFT5, fFT6, fFT7, fFT8, fFT9, fFT10, fFT11].map((d) => ({ data: d, color: pnpTan })),
    ],
    letter: "f", letterPos: [38, 50],
    legend: [
      { text: "PNP", color: "#e8702a", dy: 19, x0: 21, x1: 41, tx: 44 },
      { text: "PNP+NaBH4", color: "#cfd25a", dy: 45, x0: 21, x1: 41, tx: 44 },
      { text: "PNP+FTAuNPs from 0 to 80 min", color: "#d0b890", dy: 68, x0: 21, x1: 41, tx: 44 },
    ],
    arrow: { x: 172, zeroY: 124, y0: 137, y1: 182, minY: 189, minX: 176, color: "#b8a880" },
  },
];

function makeDecor(p: Panel) {
  return {
    id: "decor",
    afterDatasetsDraw(chart: any) {
      const { ctx, chartArea: a } = chart;
      const xs = chart.scales.x, ys = chart.scales.y;
      ctx.save();
      ctx.strokeStyle = "#8c8c8c";
      ctx.lineWidth = 1.5;
      ctx.strokeRect(a.left, a.top, a.right - a.left, a.bottom - a.top);
      ctx.strokeStyle = "#666";
      ctx.lineWidth = 1.3;
      const seg = (x0: number, y0: number, x1: number, y1: number) => {
        ctx.beginPath(); ctx.moveTo(x0, y0); ctx.lineTo(x1, y1); ctx.stroke();
      };
      xTickValues.slice(1, -1).forEach((v) => {
        const px = xs.getPixelForValue(v);
        seg(px, a.top, px, a.top + 7);
        seg(px, a.bottom, px, a.bottom - 7);
      });
      p.yTicks.forEach((v) => {
        if (v <= 0 || v >= p.yMax) return;
        const py = ys.getPixelForValue(v);
        seg(a.left, py, a.left + 7, py);
        seg(a.right, py, a.right - 7, py);
      });
      ctx.font = `bold 13px ${SANS}`;
      ctx.textBaseline = "middle";
      ctx.textAlign = "left";
      p.legend.forEach((r) => {
        if (r.x0 !== undefined && r.x1 !== undefined) {
          ctx.strokeStyle = r.lineColor || r.color;
          ctx.lineWidth = 2;
          seg(a.left + r.x0, a.top + r.dy + 6, a.left + r.x1, a.top + r.dy + 6);
        }
        ctx.fillStyle = r.color;
        ctx.fillText(r.text, a.left + r.tx, a.top + r.dy);
      });
      const ar = p.arrow;
      ctx.fillStyle = ar.color;
      ctx.strokeStyle = ar.color;
      ctx.textAlign = "center";
      ctx.fillText("0", a.left + ar.x, a.top + ar.zeroY);
      ctx.lineWidth = 2.2;
      seg(a.left + ar.x, a.top + ar.y0, a.left + ar.x, a.top + ar.y1 - 8);
      ctx.beginPath();
      ctx.moveTo(a.left + ar.x - 5, a.top + ar.y1 - 10);
      ctx.lineTo(a.left + ar.x + 5, a.top + ar.y1 - 10);
      ctx.lineTo(a.left + ar.x, a.top + ar.y1);
      ctx.closePath();
      ctx.fill();
      ctx.fillText("80 min", a.left + ar.minX, a.top + ar.minY);
      ctx.fillStyle = "#000";
      ctx.textAlign = "left";
      ctx.textBaseline = "alphabetic";
      ctx.font = `bold 30px ${SERIF}`;
      ctx.fillText(p.letter, p.letterPos[0], p.letterPos[1]);
      ctx.restore();
    },
  };
}

function PanelChart({ p }: { p: Panel }) {
  const ref = useRef<HTMLCanvasElement | null>(null);
  useEffect(() => {
    if (!ref.current) return;
    const tickFont = { family: SANS, size: 14, weight: "bold" as const };
    const titleFont = { family: SANS, size: 16, weight: "bold" as const };
    const chart = new Chart(ref.current, {
      type: "line",
      data: {
        datasets: p.series.map((s) => ({
          data: p.wl.map((x, i) => ({ x, y: s.data[i] })),
          borderColor: s.color,
          backgroundColor: s.color,
          borderWidth: s.width || W,
          pointRadius: 0,
          fill: false,
          cubicInterpolationMode: "monotone" as const,
          clip: { left: 0, top: 0, right: 0, bottom: 3 } as any,
        })),
      },
      options: {
        responsive: false,
        devicePixelRatio: 1,
        animation: false,
        events: [],
        layout: { padding: { left: 0, top: p.padTop, right: p.padRight, bottom: 0 } },
        plugins: { legend: { display: false }, tooltip: { enabled: false } },
        scales: {
          x: {
            type: "linear",
            min: 200,
            max: 800,
            afterBuildTicks: (s: any) => { s.ticks = xTickValues.map((v) => ({ value: v })); },
            afterFit: (s: any) => { s.height = p.xAxisH; s.paddingLeft = 0; s.paddingRight = 0; },
            grid: { display: false, drawTicks: false },
            border: { display: false },
            ticks: {
              autoSkip: false, maxRotation: 0, padding: 10, color: "#111", font: tickFont,
              callback: (v: any) => Number(v).toFixed(2),
            },
            title: {
              display: true, text: "Wavelength (nm)", color: "#111", font: titleFont,
              padding: { top: 0, bottom: p.xTitlePad },
            },
          },
          y: {
            type: "linear",
            min: 0,
            max: p.yMax,
            afterBuildTicks: (s: any) => { s.ticks = p.yTicks.map((v) => ({ value: v })); },
            afterFit: (s: any) => { s.width = p.yAxisW; s.paddingTop = 0; s.paddingBottom = 0; },
            grid: { display: false, drawTicks: false },
            border: { display: false },
            ticks: {
              autoSkip: false, padding: 3, color: "#111", font: tickFont,
              callback: (v: any) => Number(v).toFixed(3),
            },
            title: {
              display: true, text: "Absorbance", color: "#111", font: titleFont,
              padding: { top: p.yTitlePad, bottom: 0 },
            },
          },
        },
      } as any,
      plugins: [makeDecor(p)],
    });
    return () => chart.destroy();
  }, [p]);
  const [l, t, w, h] = p.box;
  return (
    <canvas
      ref={ref}
      width={w}
      height={h}
      style={{ position: "absolute", left: l, top: t, width: w, height: h }}
    />
  );
}

export default function App() {
  return (
    <div style={{ position: "absolute", left: 0, top: 0, width: 976, height: 1254, background: "#fff", overflow: "hidden" }}>
      {panels.map((p, i) => (
        <PanelChart key={i} p={p} />
      ))}
    </div>
  );
}
